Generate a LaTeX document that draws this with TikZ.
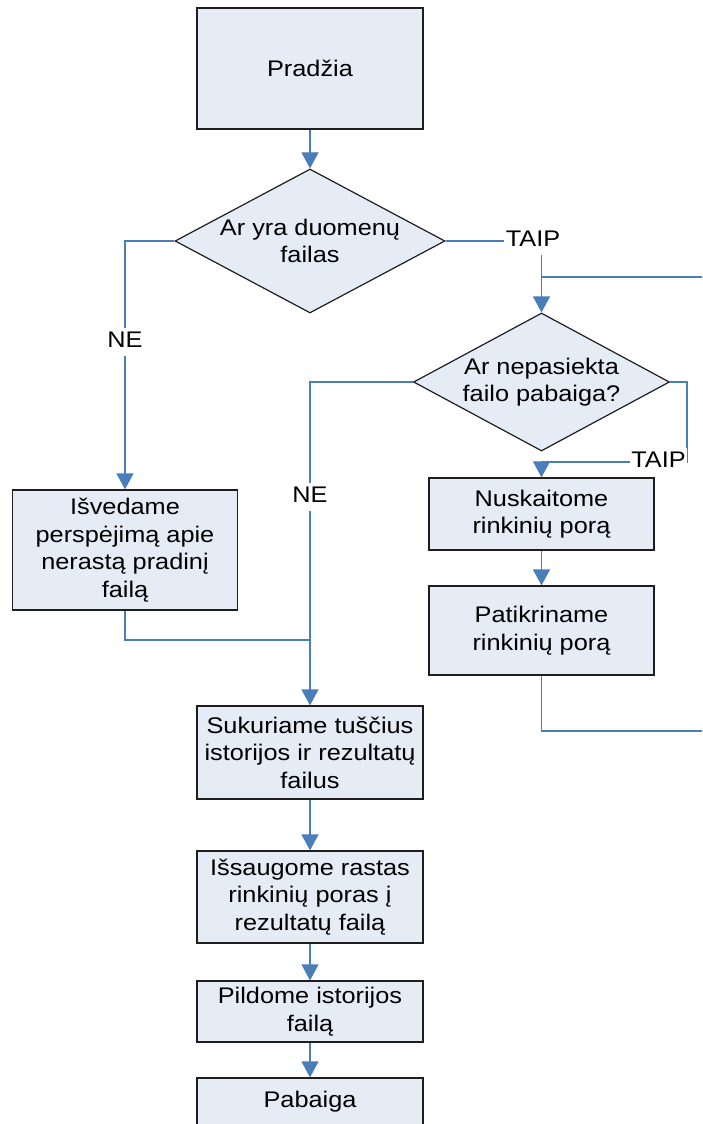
\documentclass[tikz,border=0pt]{standalone}
\usepackage{fontspec}
\setmainfont[FakeStretch=1.12]{Liberation Sans}
\usetikzlibrary{arrows.meta,shapes.geometric}
\definecolor{lineblue}{RGB}{74,126,187}
\definecolor{boxfill}{RGB}{230,236,246}
\definecolor{boxedge}{RGB}{30,30,30}
\tikzset{
  txt/.style={font=\fontsize{11.3}{13.8}\selectfont, align=center},
  procbox/.style={txt, draw=boxedge, fill=boxfill, line width=0.6pt, rectangle, inner sep=0pt},
  decision/.style={txt, draw=boxedge, fill=boxfill, line width=0.6pt, diamond, inner sep=0pt},
  conn/.style={draw=lineblue, line width=0.6pt},
  arr/.style={conn, -{Triangle[width=8.5pt,length=8pt]}, color=lineblue},
  lbl/.style={txt, fill=white, inner xsep=1pt, inner ysep=1.5pt, text height=8.2pt, text depth=2.5pt}
}
\begin{document}
\begin{tikzpicture}[x=0.5pt,y=-0.5pt]
\useasboundingbox (0,0) rectangle (702,1124);
\clip (0,0) rectangle (702,1124);
% nodes
\node[procbox, minimum width=113pt, minimum height=60.5pt] (start) at (310,68.5) {Pradžia};
\node[decision, aspect=1.875, minimum width=135pt, minimum height=72pt] (d1) at (310,241) {Ar yra duomenų\\failas};
\node[decision, aspect=1.855, minimum width=128pt, minimum height=69pt] (d2) at (541.5,382) {Ar nepasiekta\\failo pabaiga?};
\node[procbox, minimum width=112.25pt, minimum height=60pt] (isved) at (125,550) {Išvedame\\perspėjimą apie\\nerastą pradinį\\failą};
\node[procbox, minimum width=112.5pt, minimum height=36pt] (nusk) at (541.5,514) {Nuskaitome\\rinkinių porą};
\node[procbox, minimum width=112.5pt, minimum height=44.5pt] (patik) at (541.5,630.5) {Patikriname\\rinkinių porą};
\node[procbox, minimum width=113pt, minimum height=46.5pt] (sukur) at (310,752.5) {Sukuriame tuščius\\istorijos ir rezultatų\\failus};
\node[procbox, minimum width=113pt, minimum height=46pt] (issaug) at (310,897) {Išsaugome rastas\\rinkinių poras į\\rezultatų failą};
\node[procbox, minimum width=113pt, minimum height=30.5pt] (pild) at (310,1011.5) {Pildome istorijos\\failą};
\node[procbox, minimum width=113pt, minimum height=24.5pt, text depth=3pt] (pab) at (310,1102.5) {Pabaiga};
% helper coordinates
\coordinate (c1l) at (125,241);
\coordinate (c1r) at (541.5,241);
\coordinate (loopin) at (702,277);
\coordinate (loopinj) at (541.5,277);
\coordinate (c2l) at (310,382);
\coordinate (c2r) at (687,382);
\coordinate (c2rb) at (687,462);
\coordinate (c2rc) at (541.5,462);
\coordinate (isj) at (125,640);
\coordinate (isj2) at (310,640);
\coordinate (pb) at (541.5,731);
\coordinate (loopout) at (702,731);
% connectors
\draw[arr] (start) -- (d1);
\draw[arr] (d1.west) -- (c1l) -- (isved.north);
\draw[arr] (d1.east) -- (c1r) -- (d2.north);
\draw[conn] (loopin) -- (loopinj);
\draw[arr] (d2.west) -- (c2l) -- (sukur.north);
\draw[arr] (d2.east) -- (c2r) -- (c2rb) -- (c2rc) -- (nusk.north);
\draw[arr] (nusk) -- (patik);
\draw[conn] (patik.south) -- (pb) -- (loopout);
\draw[conn] (isved.south) -- (isj) -- (isj2);
\draw[arr] (sukur) -- (issaug);
\draw[arr] (issaug) -- (pild);
\draw[arr] (pild) -- (pab);
% labels
\node[lbl] (ne1) at (125,342) {NE};
\node[lbl] (taip1) at (533,241) {TAIP};
\node[lbl] (ne2) at (310,497) {NE};
\node[lbl, inner xsep=0.5pt] (taip2) at (658.5,462) {TAIP};
\end{tikzpicture}
\end{document}
